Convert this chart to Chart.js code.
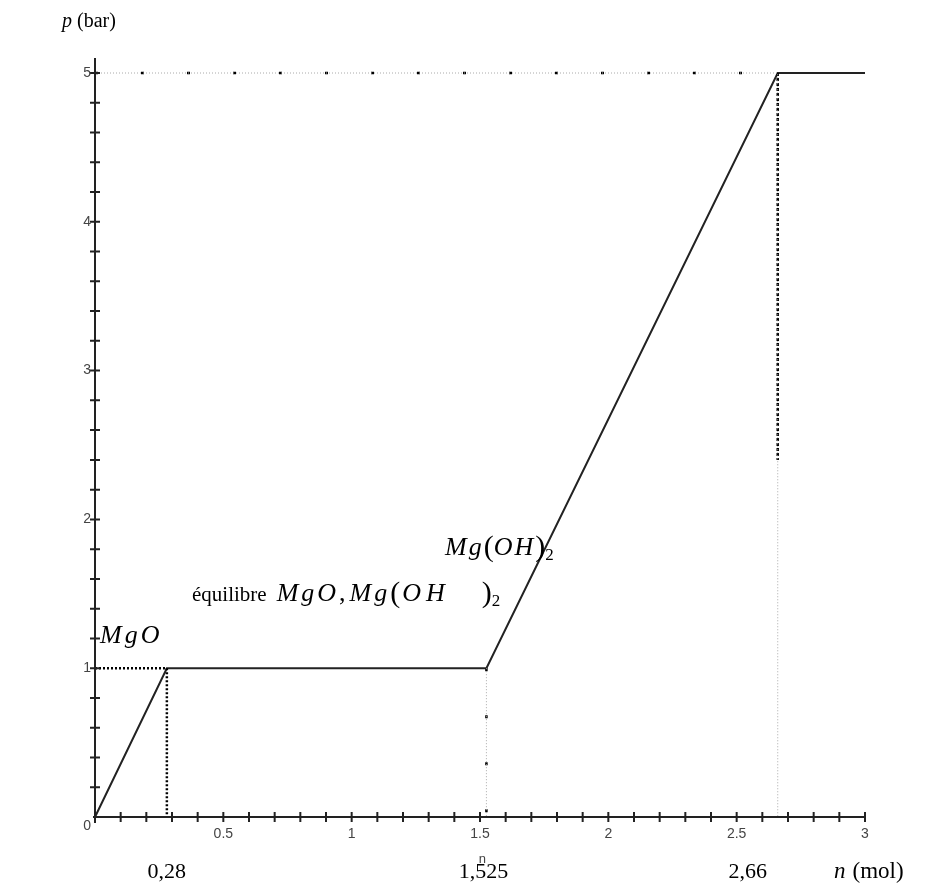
<!DOCTYPE html>
<html>
<head>
<meta charset="utf-8">
<script src="https://cdn.jsdelivr.net/npm/chart.js@4"></script>
<style>
  body { margin: 0; background: #fff; }
  canvas { display: block; }
</style>
</head>
<body>
<canvas id="chart" width="938" height="889"></canvas>
<script>
// pressure p (bar) vs amount n (mol)
const nValues = [0, 0.28, 1.525, 2.66, 3];
const pValues = [0, 1, 1, 5, 5];
const xTickValues = [0.5, 1, 1.5, 2, 2.5, 3];
const xTickLabels = ['0.5', '1', '1.5', '2', '2.5', '3'];
const yTickValues = [0, 1, 2, 3, 4, 5];
const yTickLabels = ['0', '1', '2', '3', '4', '5'];
const markedN = [0.28, 1.525, 2.66];
const markedLabels = ['0,28', '1,525', '2,66'];

const serif = '"Liberation Serif", "Times New Roman", serif';
const sans = '"Liberation Sans", Arial, sans-serif';

function pts(xs, ys) {
  return xs.map((x, i) => ({ x: x, y: ys[i] }));
}

// draws a row of text runs, each with its own font and vertical shift
function drawRuns(ctx, x, y, runs) {
  runs.forEach(r => {
    ctx.font = r.font;
    ctx.letterSpacing = (r.ls || 0) + 'px';
    ctx.fillText(r.t, x, y + (r.dy || 0));
    x += ctx.measureText(r.t).width + (r.gap || 0);
  });
  ctx.letterSpacing = '0px';
}

const axesPlugin = {
  id: 'axes',
  afterDraw(chart) {
    const ctx = chart.ctx;
    const xs = chart.scales.x, ys = chart.scales.y;
    const x0 = xs.getPixelForValue(0), y0 = ys.getPixelForValue(0);
    ctx.save();
    ctx.strokeStyle = '#222';
    ctx.lineWidth = 2;
    ctx.beginPath();
    ctx.moveTo(x0 - 2, y0);
    ctx.lineTo(xs.getPixelForValue(3), y0);
    ctx.moveTo(x0, y0 + 6);
    ctx.lineTo(x0, ys.getPixelForValue(5.1));
    ctx.stroke();
    // minor ticks
    ctx.beginPath();
    for (let i = 1; i <= 30; i++) {
      const px = xs.getPixelForValue(i / 10);
      ctx.moveTo(px, y0 - 5);
      ctx.lineTo(px, y0 + 5);
    }
    for (let i = 1; i <= 25; i++) {
      const py = ys.getPixelForValue(i / 5);
      ctx.moveTo(x0 - 5, py);
      ctx.lineTo(x0 + 5, py);
    }
    ctx.stroke();
    // tick labels
    ctx.fillStyle = '#444';
    ctx.font = '14px ' + sans;
    ctx.textAlign = 'center';
    ctx.textBaseline = 'top';
    xTickValues.forEach((v, i) => {
      ctx.fillText(xTickLabels[i], xs.getPixelForValue(v), y0 + 10);
    });
    ctx.textAlign = 'right';
    ctx.textBaseline = 'middle';
    yTickValues.forEach((v, i) => {
      const dy = v === 0 ? 9 : 0;
      ctx.fillText(yTickLabels[i], x0 - 4, ys.getPixelForValue(v) + dy);
    });
    ctx.textAlign = 'center';
    ctx.textBaseline = 'alphabetic';
    ctx.font = '13px ' + sans;
    ctx.fillText('n', xs.getPixelForValue(1.525) - 4, y0 + 46);

    // annotations
    ctx.fillStyle = '#000';
    ctx.font = '22px ' + serif;
    const offs = [0, -3, -30];
    markedN.forEach((v, i) => {
      ctx.fillText(markedLabels[i], xs.getPixelForValue(v) + offs[i], y0 + 61);
    });
    ctx.textAlign = 'left';
    drawRuns(ctx, 834, y0 + 61, [
      { t: 'n', font: 'italic 23px ' + serif, gap: 7 },
      { t: '(mol)', font: '23px ' + serif }
    ]);
    drawRuns(ctx, 62, 27, [
      { t: 'p', font: 'italic 20px ' + serif, gap: 5 },
      { t: '(bar)', font: '20px ' + serif }
    ]);
    const it = 'italic 26px ' + serif;
    const up = '26px ' + serif;
    drawRuns(ctx, x0 + 5, ys.getPixelForValue(1.17), [
      { t: 'MgO', font: it, ls: 3 }
    ]);
    drawRuns(ctx, 192, ys.getPixelForValue(1.45), [
      { t: 'équilibre', font: '21px ' + serif, gap: 10 },
      { t: 'MgO', font: it, ls: 3 },
      { t: ',', font: up, gap: 4 },
      { t: 'Mg', font: it, ls: 3 },
      { t: '(', font: '30px ' + serif, dy: 1, gap: 2 },
      { t: 'OH', font: it, ls: 5, gap: 32 },
      { t: ')', font: '30px ' + serif, dy: 1 },
      { t: '2', font: '17px ' + serif, dy: 5 }
    ]);
    drawRuns(ctx, 445, ys.getPixelForValue(1.76), [
      { t: 'Mg', font: it, ls: 2 },
      { t: '(', font: '30px ' + serif, dy: 1 },
      { t: 'OH', font: it, ls: 2, gap: 0 },
      { t: ')', font: '30px ' + serif, dy: 1 },
      { t: '2', font: '17px ' + serif, dy: 5 }
    ]);
    ctx.restore();
  }
};

new Chart(document.getElementById('chart'), {
  type: 'line',
  data: {
    datasets: [
      {
        data: pts([0, 0.28, 0.28], [1, 1, 0]),
        borderColor: '#000', borderWidth: 2.5, borderDash: [2, 2]
      },
      {
        data: pts([1.525, 1.525], [1, 0]),
        borderColor: '#aaa', borderWidth: 1, borderDash: [1, 2]
      },
      {
        data: pts([1.525, 1.525], [1, 0]),
        borderColor: '#000', borderWidth: 2.5, borderDash: [3, 44]
      },
      {
        data: pts([0, 2.66, 2.66], [5, 5, 0]),
        borderColor: '#aaa', borderWidth: 1, borderDash: [1, 2]
      },
      {
        data: pts([0, 2.66], [5, 5]),
        borderColor: '#000', borderWidth: 2.5, borderDash: [3, 43]
      },
      {
        data: pts([2.66, 2.66], [5, 2.4]),
        borderColor: '#000', borderWidth: 2.5, borderDash: [3, 2]
      },
      {
        data: pts(nValues, pValues),
        borderColor: '#222', borderWidth: 2
      }
    ]
  },
  options: {
    responsive: false,
    animation: false,
    layout: { padding: { left: 95, right: 73, top: 73, bottom: 72 } },
    elements: { point: { radius: 0 }, line: { tension: 0 } },
    datasets: { line: { clip: false } },
    plugins: { legend: { display: false }, tooltip: { enabled: false } },
    scales: {
      x: { type: 'linear', min: 0, max: 3, display: false },
      y: { type: 'linear', min: 0, max: 5, display: false }
    }
  },
  plugins: [axesPlugin]
});
</script>
</body>
</html>
